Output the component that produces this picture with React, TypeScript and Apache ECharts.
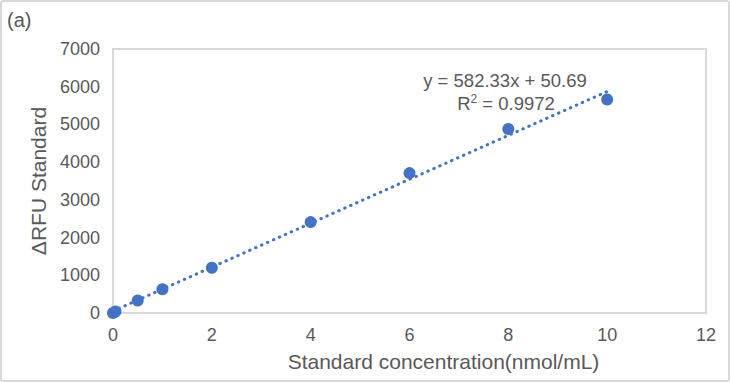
import React, { useEffect, useRef } from "react";
import * as echarts from "echarts";

const concentrations = [0, 0.05, 0.5, 1, 2, 4, 6, 8, 10];
const rfuValues = [0, 40, 330, 630, 1200, 2410, 3710, 4880, 5660];
const trendCoefficients = [582.33, 50.69]; // slope, intercept
const trendRange = [0, 10];
const equationText = "y = 582.33x + 50.69";
const r2Value = "0.9972";
const panelLabel = "(a)";

export default function App() {
  const ref = useRef<HTMLDivElement>(null);
  useEffect(() => {
    document.body.style.margin = "0";
    const chart = echarts.init(ref.current!, null, { renderer: "svg" });
    const [slope, intercept] = trendCoefficients;
    const trendData = trendRange.map((x) => [x, slope * x + intercept]);
    const font = "'Liberation Sans', Arial, sans-serif";
    const textColor = "#595959";
    chart.setOption({
      animation: false,
      backgroundColor: "#ffffff",
      grid: {
        left: 113,
        top: 49,
        right: 24,
        bottom: 69,
        show: true,
        borderColor: "#d9d9d9",
        borderWidth: 2,
      },
      xAxis: {
        type: "value",
        min: 0,
        max: 12,
        interval: 2,
        name: "Standard concentration(nmol/mL)",
        nameLocation: "middle",
        nameGap: 38,
        nameTextStyle: { color: textColor, fontSize: 21, fontFamily: font, padding: [0, 0, 0, 68] },
        axisLine: { show: true, lineStyle: { color: "#d9d9d9", width: 2 } },
        axisTick: { show: false },
        splitLine: { show: false },
        axisLabel: { color: textColor, fontSize: 18, fontFamily: font, margin: 13, formatter: (v: number) => String(v) },
      },
      yAxis: {
        type: "value",
        min: 0,
        max: 7000,
        interval: 1000,
        name: "ΔRFU Standard",
        nameLocation: "middle",
        nameGap: 64,
        nameTextStyle: { color: textColor, fontSize: 21, fontFamily: font },
        axisLine: { show: true, lineStyle: { color: "#d9d9d9", width: 2 } },
        axisTick: { show: false },
        splitLine: { show: false },
        axisLabel: { color: textColor, fontSize: 18, fontFamily: font, margin: 13, formatter: (v: number) => String(v) },
      },
      series: [
        {
          type: "line",
          data: trendData,
          showSymbol: false,
          symbol: "none",
          lineStyle: { color: "#4472C4", width: 3, type: [0.5, 6], cap: "round" },
          z: 2,
        },
        {
          type: "scatter",
          data: concentrations.map((c, i) => [c, rfuValues[i]]),
          symbol: "circle",
          symbolSize: 12,
          itemStyle: { color: "#4472C4", opacity: 1 },
          z: 3,
        },
      ],
      graphic: [
        {
          type: "rect",
          shape: { x: 1, y: 1, width: 728, height: 380, r: 2 },
          style: { fill: "none", stroke: "#d9d9d9", lineWidth: 2 },
          silent: true,
        },
        {
          type: "text",
          x: 7,
          y: 10,
          style: { text: panelLabel, fill: textColor, fontSize: 20, fontFamily: font },
        },
        {
          type: "text",
          x: 505,
          y: 71,
          style: {
            text: equationText,
            fill: textColor,
            fontSize: 18.5,
            fontFamily: font,
            align: "center",
          },
        },
        {
          type: "text",
          x: 506,
          y: 93,
          style: {
            text: "R{sup|2} = " + r2Value,
            fill: textColor,
            fontSize: 18.5,
            fontFamily: font,
            align: "center",
            rich: {
              sup: { fontSize: 12, fill: textColor, fontFamily: font, verticalAlign: "top", padding: [0, 0, 8, 0] },
            },
          },
        },
      ],
    });
    return () => chart.dispose();
  }, []);
  return <div ref={ref} style={{ width: 730, height: 382 }} />;
}
